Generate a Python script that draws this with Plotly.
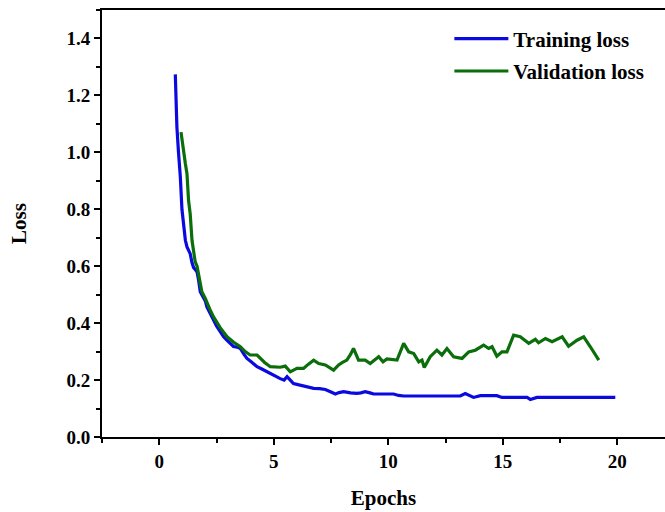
import plotly.graph_objects as go

train_x = [0.70, 0.73, 0.77, 0.84, 0.92, 0.99, 1.07, 1.14, 1.21, 1.28,
           1.35, 1.43, 1.50, 1.57, 1.65, 1.72, 1.79, 1.86, 1.94, 2.01,
           2.08, 2.20, 2.37, 2.50, 2.65, 2.81, 2.95, 3.10, 3.24, 3.40,
           3.54, 3.70, 3.83, 4.00, 4.15, 4.27, 4.50, 4.70, 4.90, 5.14,
           5.28, 5.45, 5.58, 5.72, 5.86, 6.10, 6.30, 6.50, 6.74, 7.00,
           7.25, 7.45, 7.69, 7.85, 8.05, 8.35, 8.63, 8.80, 8.99, 9.20,
           9.36, 9.80, 10.23, 10.45, 10.67, 11.5, 12.3, 13.14, 13.36, 13.58,
           13.72, 14.02, 14.74, 14.96, 15.5, 16.06, 16.20, 16.49, 17.5, 18.5,
           19.91]
train_loss = [1.274, 1.18, 1.089, 1.0, 0.914, 0.80, 0.73, 0.691, 0.668, 0.655,
              0.644, 0.612, 0.595, 0.588, 0.58, 0.55, 0.51, 0.50, 0.49, 0.478,
              0.457, 0.44, 0.411, 0.39, 0.37, 0.352, 0.34, 0.33, 0.318, 0.316,
              0.311, 0.29, 0.276, 0.265, 0.255, 0.247, 0.238, 0.229, 0.22, 0.212,
              0.205, 0.200, 0.212, 0.200, 0.188, 0.183, 0.179, 0.175, 0.171, 0.170,
              0.167, 0.160, 0.151, 0.156, 0.159, 0.155, 0.153, 0.155, 0.159, 0.155,
              0.151, 0.151, 0.151, 0.146, 0.144, 0.144, 0.144, 0.144, 0.153, 0.144,
              0.139, 0.145, 0.145, 0.139, 0.139, 0.139, 0.132, 0.139, 0.139, 0.139,
              0.139]

val_x = [0.95, 1.05, 1.14, 1.21, 1.28, 1.35, 1.43, 1.57, 1.65, 1.86,
         2.01, 2.2, 2.37, 2.65, 2.96, 3.25, 3.54, 3.75, 3.97, 4.27,
         4.41, 4.6, 4.85, 5.28, 5.50, 5.72, 6.01, 6.30, 6.50, 6.74,
         6.96, 7.25, 7.61, 7.83, 8.0, 8.19, 8.35, 8.48, 8.70, 8.99,
         9.21, 9.58, 9.77, 9.94, 10.38, 10.67, 10.89, 11.11, 11.33, 11.47,
         11.57, 11.83, 12.12, 12.34, 12.56, 12.85, 13.22, 13.51, 13.80, 14.16,
         14.38, 14.53, 14.74, 14.96, 15.18, 15.47, 15.76, 16.13, 16.42, 16.56,
         16.86, 17.15, 17.59, 17.87, 18.24, 18.53, 18.82, 19.19]
val_loss = [1.071, 1.00, 0.96, 0.925, 0.83, 0.785, 0.69, 0.615, 0.60, 0.51,
            0.487, 0.45, 0.422, 0.385, 0.352, 0.333, 0.317, 0.30, 0.288, 0.288,
            0.276, 0.262, 0.247, 0.245, 0.249, 0.229, 0.241, 0.241, 0.255, 0.270,
            0.258, 0.253, 0.235, 0.253, 0.262, 0.270, 0.29, 0.311, 0.270, 0.270,
            0.258, 0.282, 0.264, 0.274, 0.270, 0.329, 0.299, 0.293, 0.264, 0.270,
            0.244, 0.282, 0.305, 0.288, 0.311, 0.282, 0.276, 0.299, 0.305, 0.323,
            0.311, 0.317, 0.284, 0.299, 0.299, 0.358, 0.352, 0.329, 0.343, 0.331,
            0.346, 0.335, 0.352, 0.319, 0.340, 0.352, 0.317, 0.270]

x_ticks = [0, 5, 10, 15, 20]
y_ticks = [0.0, 0.2, 0.4, 0.6, 0.8, 1.0, 1.2, 1.4]
y_tick_labels = ["0.0", "0.2", "0.4", "0.6", "0.8", "1.0", "1.2", "1.4"]

FONT = "Liberation Serif"

fig = go.Figure()
fig.add_trace(go.Scatter(x=train_x, y=train_loss, mode="lines", name="Training loss",
                         legendgroup="train",
                         line=dict(color="#0a0ae0", width=3.2)))
fig.add_trace(go.Scatter(x=val_x, y=val_loss, mode="lines", name="Validation loss",
                         legendgroup="val",
                         line=dict(color="#0a6e0a", width=3.2)))

fig.update_layout(
    width=665, height=512,
    margin=dict(l=102, r=0, t=10, b=75),
    paper_bgcolor="white", plot_bgcolor="white",
    font=dict(family=FONT, color="black"),
    showlegend=True,
    legend=dict(x=0.617, y=0.98, xanchor="left", yanchor="top",
                bgcolor="rgba(0,0,0,0)", itemwidth=54,
                font=dict(family=FONT, size=21, color="black", weight="bold"),
                tracegroupgap=2),
    xaxis=dict(range=[-2.5, 22.08], tickvals=x_ticks, ticktext=[str(v) for v in x_ticks],
               ticks="outside", ticklen=6, tickwidth=2, tickcolor="black",
               minor=dict(dtick=2.5, tick0=0, ticks="outside", ticklen=4, tickwidth=2, tickcolor="black"),
               showline=True, linewidth=2, linecolor="black", mirror=True,
               showgrid=False, zeroline=False,
               tickfont=dict(family=FONT, size=19, weight="bold"),
               title=dict(text="<b>Epochs</b>", font=dict(family=FONT, size=21), standoff=20)),
    yaxis=dict(range=[0, 1.5], tickvals=y_ticks, ticktext=y_tick_labels,
               ticks="outside", ticklen=6, tickwidth=2, tickcolor="black",
               minor=dict(dtick=0.1, tick0=0, ticks="outside", ticklen=4, tickwidth=2, tickcolor="black"),
               showline=True, linewidth=2, linecolor="black", mirror=False,
               showgrid=False, zeroline=False,
               tickfont=dict(family=FONT, size=19, weight="bold"),
               title=dict(text="<b>Loss</b>", font=dict(family=FONT, size=21), standoff=34)),
)

fig.write_html("out.html", config={"displayModeBar": False},
               post_script="document.body.style.margin='0';")
